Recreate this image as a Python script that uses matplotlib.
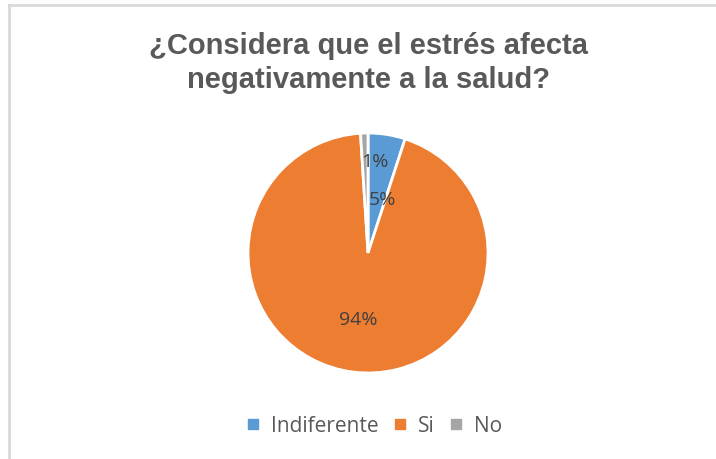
import matplotlib.pyplot as plt
from matplotlib.lines import Line2D

categories = ["Indiferente", "Si", "No"]
values = [5, 94, 1]
colors = ["#5B9BD5", "#ED7D31", "#A5A5A5"]
title = "¿Considera que el estrés afecta\nnegativamente a la salud?"

fig = plt.figure(figsize=(7.16, 4.6), dpi=100)

# frame lines (top and left only visible in the reference)
fig.add_artist(Line2D([0.012, 1.0], [0.988, 0.988], color="#D9D9D9", lw=2))
fig.add_artist(Line2D([0.013, 0.013], [0.0, 0.988], color="#D9D9D9", lw=2))

ax = fig.add_axes([0.3464, 0.187, 0.3352, 0.5217])
wedges, texts, autotexts = ax.pie(values, colors=colors, startangle=90, counterclock=False,
                                  autopct="%1.0f%%", pctdistance=0.5,
                                  wedgeprops=dict(edgecolor="white", linewidth=2),
                                  textprops=dict(color="#404040", fontsize=14, family="Open Sans"))
ax.set_xlim(-1, 1)
ax.set_ylim(-1, 1)
ax.set_aspect("equal")

# nudge label positions like Excel does
offsets = [(0.04, -0.04), (-0.02, -0.05), (0.07, 0.27)]
for t, (dx, dy) in zip(autotexts, offsets):
    x, y = t.get_position()
    t.set_position((x + dx, y + dy))

fig.text(0.514, 0.93, title, ha="center", va="top", fontsize=21, fontweight="bold",
         color="#595959", family="Liberation Sans", linespacing=1.25)

handles = [plt.Line2D([], [], marker="s", ls="", color=c, markersize=7) for c in colors]
fig.legend(handles, categories, loc="center", bbox_to_anchor=(0.523, 0.073), ncol=3,
           frameon=False, handlelength=0.6, handletextpad=0.55, columnspacing=0.75,
           prop=dict(family="Open Sans", size=15), labelcolor="#595959")

fig.savefig("out.png", dpi=100, facecolor="white")
